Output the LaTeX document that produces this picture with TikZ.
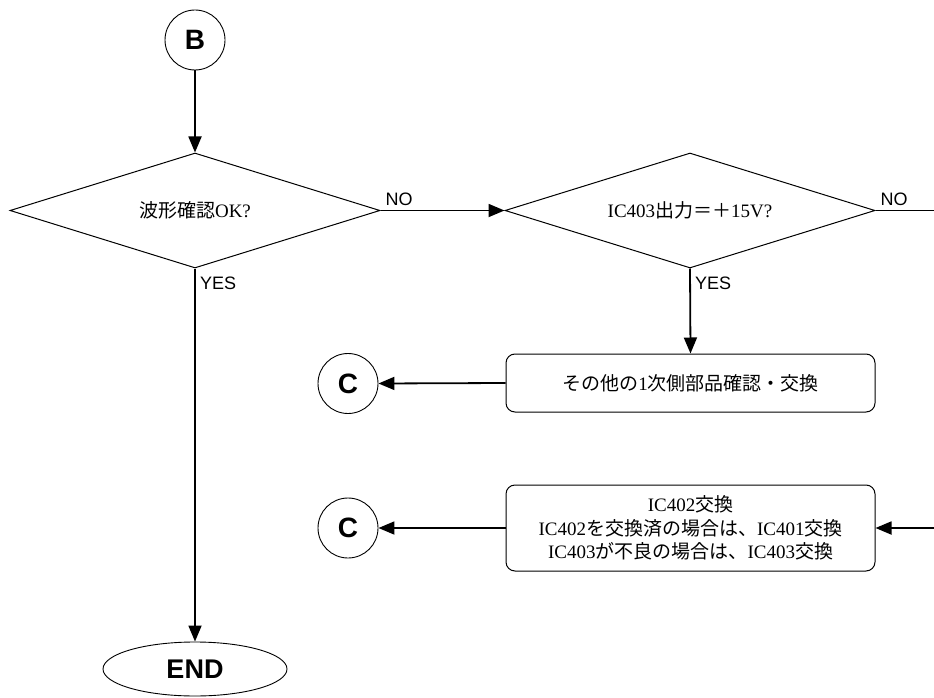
\documentclass[tikz,border=0pt]{standalone}
\usepackage{fontspec}
\setmainfont{Liberation Serif}
\setsansfont{Liberation Sans}
\newfontfamily\jpfont{Noto Sans CJK JP}
\newcommand{\jp}[1]{{\jpfont #1}}
\usetikzlibrary{shapes.geometric,arrows.meta}
\tikzset{
  conn/.style={line width=1.8pt,-{Triangle[length=16pt,width=13pt]}},
  plainconn/.style={line width=1.8pt},
  decision/.style={diamond,draw,line width=1pt,inner sep=0pt,minimum width=370pt,minimum height=115pt,aspect=3.2,font=\fontsize{19}{23}\selectfont},
  procbox/.style={rectangle,draw,line width=1pt,rounded corners=9pt,minimum width=369pt,align=center,font=\fontsize{19}{23.5}\selectfont},
  connector/.style={circle,draw,line width=0.9pt,minimum size=60pt,inner sep=0pt,font=\sffamily\bfseries\fontsize{28}{30}\selectfont},
  terminal/.style={ellipse,draw,line width=0.9pt,minimum width=184pt,minimum height=54pt,inner sep=0pt,font=\sffamily\bfseries\fontsize{27}{30}\selectfont},
  lbl/.style={font=\sffamily\fontsize{18}{20}\selectfont,inner sep=0pt}
}
\begin{document}
\begin{tikzpicture}[x=1pt,y=-1pt]
\useasboundingbox (0,0) rectangle (934,698);
\node[connector] (B) at (195,40) {B};
\node[decision] (d1) at (195,210.5) {\jp{波形確認}OK?};
\node[decision] (d2) at (690,210.5) {IC403\jp{出力＝＋}15V?};
\node[procbox,minimum height=58pt] (p1) at (690.5,383) {\jp{その他の}1\jp{次側部品確認・交換}};
\node[procbox,minimum height=86pt] (p2) at (690.5,528) {IC402\jp{交換}\\IC402\jp{を交換済の場合は、}IC401\jp{交換}\\IC403\jp{が不良の場合は、}IC403\jp{交換}};
\node[connector] (C1) at (348,383.5) {C};
\node[connector] (C2) at (348,528) {C};
\node[terminal] (E) at (195,669) {END};
\coordinate (out) at (934,210.5);
\coordinate (in) at (934,528);

\draw[conn] (B) -- (d1.north);
\draw[conn] (d1.east) -- (d2.west);
\draw[plainconn] (d2.east) -- (out);
\draw[conn] (d2.south) -- (p1.north);
\draw[conn] (p1.west) -- (C1.east);
\draw[conn] (in) -- (p2.east);
\draw[conn] (p2.west) -- (C2.east);
\draw[conn] (d1.south) -- (E.north);

\node[lbl,anchor=south west] (no1) at ([xshift=5pt,yshift=5pt]d1.east) {NO};
\node[lbl,anchor=south west] (no2) at ([xshift=5pt,yshift=5pt]d2.east) {NO};
\node[lbl,anchor=north west] (yes1) at ([xshift=5pt,yshift=-8pt]d1.south) {YES};
\node[lbl,anchor=north west] (yes2) at ([xshift=5pt,yshift=-8pt]d2.south) {YES};
\end{tikzpicture}
\end{document}
